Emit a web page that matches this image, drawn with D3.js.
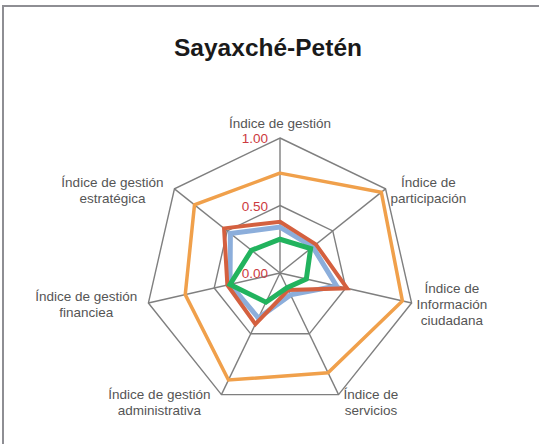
<!DOCTYPE html>
<html>
<head>
<meta charset="utf-8">
<script src="https://cdn.jsdelivr.net/npm/d3@7"></script>
<style>
  html, body { margin: 0; padding: 0; background: #fff; }
  svg { display: block; font-family: "Liberation Sans", Arial, sans-serif; }
</style>
</head>
<body>
<svg id="chart" width="539" height="444"></svg>
<script>
// ejes del radar (cada etiqueta puede tener varias líneas)
const categories = [
    ["Índice de gestión"],
    ["Índice de", "participación"],
    ["Índice de", "Información", "ciudadana"],
    ["Índice de", "servicios"],
    ["Índice de gestión", "administrativa"],
    ["Índice de gestión", "financiea"],
    ["Índice de gestión", "estratégica"]
];

// valores (0 - 1)
const seriesOrange = [0.74, 0.96, 0.93, 0.82, 0.88, 0.72, 0.81];
const seriesBlue   = [0.34, 0.31, 0.43, 0.18, 0.37, 0.38, 0.47];
const seriesRed    = [0.38, 0.34, 0.51, 0.14, 0.42, 0.40, 0.53];
const seriesGreen  = [0.25, 0.29, 0.20, 0.12, 0.24, 0.38, 0.27];

const tickValues = [0, 0.5, 1];

const svg = d3.select('#chart');
const width = 539, height = 444;
const cx = 280, cy = 273, radius = 135;

// marco gris
svg.append('rect')
    .attr('x', 3).attr('y', 6)
    .attr('width', width + 10).attr('height', height + 10)
    .attr('fill', 'none')
    .attr('stroke', '#8e8e93')
    .attr('stroke-width', 2);

// título
svg.append('text')
    .attr('x', 268).attr('y', 56)
    .attr('text-anchor', 'middle')
    .attr('font-size', '24.5px')
    .attr('font-weight', 'bold')
    .attr('fill', '#1a1a1a')
    .text('Sayaxché-Petén');

const n = categories.length;
const r = d3.scaleLinear().domain([0, 1]).range([0, radius]);
const angle = i => i * 2 * Math.PI / n;
const point = (i, v) => [cx + r(v) * Math.sin(angle(i)), cy - r(v) * Math.cos(angle(i))];

const g = svg.append('g');

// anillos de la cuadrícula
tickValues.filter(t => t > 0).forEach(t => {
    g.append('path')
        .attr('d', d3.line()(d3.range(n).map(i => point(i, t))) + 'Z')
        .attr('fill', 'none')
        .attr('stroke', '#7f7f7f')
        .attr('stroke-width', 1.4);
});

// radios
d3.range(n).forEach(i => {
    const p = point(i, 1);
    g.append('line')
        .attr('x1', cx).attr('y1', cy)
        .attr('x2', p[0]).attr('y2', p[1])
        .attr('stroke', '#7f7f7f')
        .attr('stroke-width', 1.4);
});

// series
const radarLine = d3.line();
const series = [
    { values: seriesOrange, color: '#f0a04b', width: 3.5 },
    { values: seriesBlue,   color: '#8caedb', width: 5 },
    { values: seriesRed,    color: '#d4603f', width: 4 },
    { values: seriesGreen,  color: '#22b35e', width: 5 }
];
series.forEach(s => {
    g.append('path')
        .attr('d', radarLine(s.values.map((v, i) => point(i, v))) + 'Z')
        .attr('fill', 'none')
        .attr('stroke', s.color)
        .attr('stroke-width', s.width)
        .attr('stroke-linejoin', 'miter');
});

// etiquetas de escala
tickValues.forEach(t => {
    svg.append('text')
        .attr('x', cx - 12)
        .attr('y', cy - r(t) + 5)
        .attr('text-anchor', 'end')
        .attr('font-size', '13.5px')
        .attr('fill', '#cc3a40')
        .text(d3.format('.2f')(t));
});

// etiquetas de categorías
const lineH = 16;
categories.forEach((lines, i) => {
    const [vx, vy] = point(i, 1);
    const s = Math.sin(angle(i)), c = Math.cos(angle(i));
    const txt = svg.append('text')
        .attr('text-anchor', 'middle')
        .attr('font-size', '13.5px')
        .attr('fill', '#555');
    const spans = lines.map(l => txt.append('tspan').text(l));
    const w = d3.max(spans, sp => sp.node().getComputedTextLength());
    let x = vx;
    if (s > 0.1) x = vx + 5 + w / 2;
    else if (s < -0.1) x = vx - 11 - w / 2;
    let firstBase;
    if (i === 0) firstBase = vy - 10;
    else {
        const mid = vy + (c < -0.5 ? 7 : 1);
        firstBase = mid - (lines.length - 1) * lineH / 2 + 5;
    }
    spans.forEach((sp, k) => sp.attr('x', x).attr('y', firstBase + k * lineH));
});
</script>
</body>
</html>
